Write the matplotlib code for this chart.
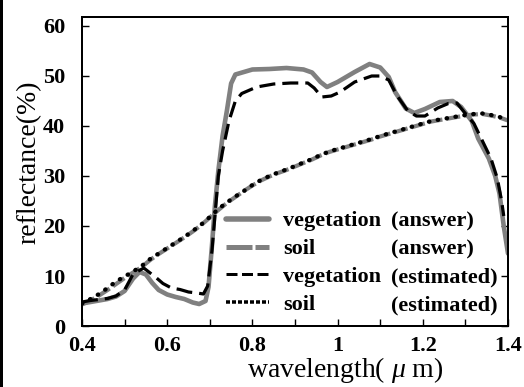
import matplotlib
matplotlib.use("Agg")
import matplotlib.pyplot as plt
from matplotlib.lines import Line2D
from matplotlib.patches import Rectangle
from matplotlib.ticker import MultipleLocator, FixedLocator

plt.rcParams['font.family'] = ['Liberation Serif', 'DejaVu Serif']
plt.rcParams['mathtext.fontset'] = 'custom'
plt.rcParams['mathtext.it'] = 'Liberation Serif:italic'
plt.rcParams['lines.scale_dashes'] = False

# ---- data ----
veg_ans_w = [0.40, 0.42, 0.44, 0.46, 0.48, 0.50, 0.52, 0.535, 0.55, 0.565, 0.58, 0.60,
             0.62, 0.64, 0.66, 0.675, 0.69, 0.697, 0.705, 0.712, 0.72, 0.73, 0.74, 0.75,
             0.76, 0.78, 0.80, 0.84, 0.88, 0.92, 0.94, 0.96, 0.975, 1.00, 1.04, 1.075,
             1.10, 1.12, 1.135, 1.16, 1.18, 1.205, 1.24, 1.27, 1.29, 1.315, 1.33, 1.355,
             1.37, 1.38, 1.39, 1.40]
veg_ans_r = [4.5, 4.8, 5.1, 5.4, 5.9, 7.0, 9.5, 10.8, 10.3, 8.6, 7.2, 6.3,
             5.8, 5.4, 4.7, 4.4, 5.0, 7.8, 16.0, 24.0, 31.0, 38.0, 43.0, 48.5,
             50.3, 50.8, 51.3, 51.4, 51.6, 51.3, 50.7, 48.8, 47.8, 48.8, 50.8, 52.4,
             51.7, 49.8, 46.8, 43.5, 42.6, 43.4, 44.8, 45.0, 43.8, 41.0, 37.5, 33.5,
             30.0, 26.5, 20.0, 14.5]

veg_est_w = [0.40, 0.42, 0.44, 0.46, 0.48, 0.50, 0.52, 0.545, 0.56, 0.575, 0.59, 0.61,
             0.63, 0.65, 0.67, 0.685, 0.695, 0.705, 0.712, 0.72, 0.73, 0.745, 0.76,
             0.775, 0.81, 0.85, 0.89, 0.93, 0.945, 0.963, 0.985, 1.006, 1.04, 1.08,
             1.10, 1.12, 1.14, 1.165, 1.185, 1.205, 1.235, 1.26, 1.28, 1.30, 1.32,
             1.34, 1.36, 1.375, 1.385, 1.39]
veg_est_r = [4.8, 5.1, 5.3, 5.5, 6.0, 7.2, 10.4, 11.6, 10.6, 9.6, 8.5, 7.6,
             7.3, 6.8, 6.6, 6.4, 8.0, 15.0, 22.0, 30.0, 35.0, 41.0, 45.0,
             46.5, 47.8, 48.4, 48.6, 48.6, 47.6, 45.8, 46.0, 46.8, 48.8, 50.0,
             50.0, 49.2, 46.0, 43.0, 42.0, 42.0, 43.6, 44.5, 44.6, 42.5, 40.5,
             37.0, 33.5, 29.5, 25.0, 22.0]

soil_w = [0.40, 0.42, 0.44, 0.46, 0.48, 0.50, 0.52, 0.54, 0.56, 0.58, 0.60, 0.62,
          0.64, 0.66, 0.68, 0.70, 0.72, 0.74, 0.76, 0.78, 0.80, 0.82, 0.84, 0.86,
          0.88, 0.90, 0.92, 0.94, 0.96, 0.98, 1.00, 1.02, 1.04, 1.06, 1.08, 1.10,
          1.12, 1.14, 1.16, 1.18, 1.20, 1.22, 1.24, 1.26, 1.28, 1.30, 1.32, 1.34,
          1.36, 1.38, 1.40]
soil_ans_r = [4.3, 5.1, 6.1, 7.2, 8.4, 9.6, 10.7, 11.8, 13.2, 14.4, 15.5, 16.6,
              17.7, 18.9, 20.2, 21.7, 23.2, 24.6, 25.8, 27.0, 28.1, 29.1, 29.9, 30.6,
              31.2, 31.9, 32.6, 33.3, 34.1, 34.8, 35.3, 35.8, 36.3, 36.8, 37.3, 37.9,
              38.4, 38.9, 39.4, 39.9, 40.4, 40.9, 41.2, 41.5, 41.8, 42.1, 42.3, 42.4,
              42.1, 41.7, 41.1]
soil_est_r = [4.5, 5.4, 6.4, 7.6, 8.9, 9.9, 10.9, 12.0, 13.4, 14.5, 15.6, 16.7,
              17.8, 19.0, 20.3, 21.8, 23.4, 24.7, 25.9, 27.0, 28.2, 29.2, 30.0, 30.7,
              31.3, 32.0, 32.7, 33.4, 34.2, 34.9, 35.4, 35.9, 36.4, 36.9, 37.4, 38.0,
              38.5, 39.0, 39.5, 40.0, 40.5, 41.0, 41.3, 41.6, 41.9, 42.2, 42.4, 42.5,
              42.2, 41.8, 41.2]

labels_left = ["vegetation", "soil", "vegetation", "soil"]
labels_right = ["(answer)", "(answer)", "(estimated)", "(estimated)"]
xticks = [0.4, 0.6, 0.8, 1.0, 1.2, 1.4]
xticklabels = ["0.4", "0.6", "0.8", "1", "1.2", "1.4"]
yticks = [0, 10, 20, 30, 40, 50, 60]

GRAY = '#808080'
PX = 0.72  # points per pixel at dpi 100

fig = plt.figure(figsize=(5.24, 3.87), dpi=100)
ax = fig.add_axes([82/524, 1-326/387, (508-82)/524, (326-17)/387])

ax.plot(veg_ans_w, veg_ans_r, color=GRAY, lw=4.6*PX, solid_capstyle='round',
        solid_joinstyle='round', zorder=2)
ax.plot(soil_w, soil_ans_r, color=GRAY, lw=4.2*PX, dashes=(14*PX, 4*PX), zorder=2)
ax.plot(veg_est_w, veg_est_r, color='black', lw=3.2*PX, dashes=(16*PX, 7*PX), zorder=3)
ax.plot(soil_w, soil_est_r, color='black', lw=4.3*PX, dashes=(0.5*PX, 8.5*PX),
        dash_capstyle='round', zorder=4)

ax.set_xlim(0.4, 1.4)
ax.set_ylim(0, 61.8)
ax.xaxis.set_major_locator(FixedLocator(xticks))
ax.set_xticklabels(xticklabels)
ax.xaxis.set_minor_locator(MultipleLocator(0.1))
ax.set_yticks(yticks)

for s in ax.spines.values():
    s.set_linewidth(2*PX)
ax.tick_params(axis='both', which='both', direction='in', length=5, width=1.4*PX,
               top=False, right=True, labelright=False)
ax.tick_params(axis='y', pad=12)
ax.tick_params(axis='x', pad=7)
for t in ax.get_xticklabels() + ax.get_yticklabels():
    t.set_fontsize(16)
    t.set_fontweight('bold')

ax.set_xlabel("wavelength( $\\mu$ m)", fontsize=20)
ax.xaxis.label.set_va('baseline')
ax.xaxis.set_label_coords((345-82)/426, (326-377)/309)
ax.set_ylabel("reflectance(%)", fontsize=20)
ax.yaxis.label.set_va('center')
ax.yaxis.set_label_coords((29-82)/426, (326-162)/309)

# legend
h_left = [
    Line2D([], [], color=GRAY, lw=5.5*PX, solid_capstyle='round'),
    Line2D([], [], color=GRAY, lw=5*PX, dashes=(26*PX, 3*PX)),
    Line2D([], [], color='black', lw=3*PX, dashes=(11*PX, 4.5*PX)),
    Line2D([], [], color='black', lw=3.5*PX, dashes=(4*PX, 2*PX)),
]
leg_font = {'family': 'Liberation Serif', 'weight': 'bold', 'size': 16}
leg1 = ax.legend(h_left, labels_left, loc='center left',
                 bbox_to_anchor=((226-82)/426, (326-263)/309), frameon=False,
                 prop=leg_font, handlelength=1.95, handletextpad=0.63,
                 borderpad=0, borderaxespad=0, labelspacing=0.33)
ax.add_artist(leg1)
h_none = [Line2D([], [], color='none') for _ in labels_right]
ax.legend(h_none, labels_right, loc='center left',
          bbox_to_anchor=((391-82)/426, (326-263)/309), frameon=False,
          prop=leg_font, handlelength=0, handletextpad=0,
          borderpad=0, borderaxespad=0, labelspacing=0.33)

fig.add_artist(Rectangle((0, 0), 3/524, 1, transform=fig.transFigure,
                         color='black', lw=0))

fig.savefig("out.png", dpi=100)
